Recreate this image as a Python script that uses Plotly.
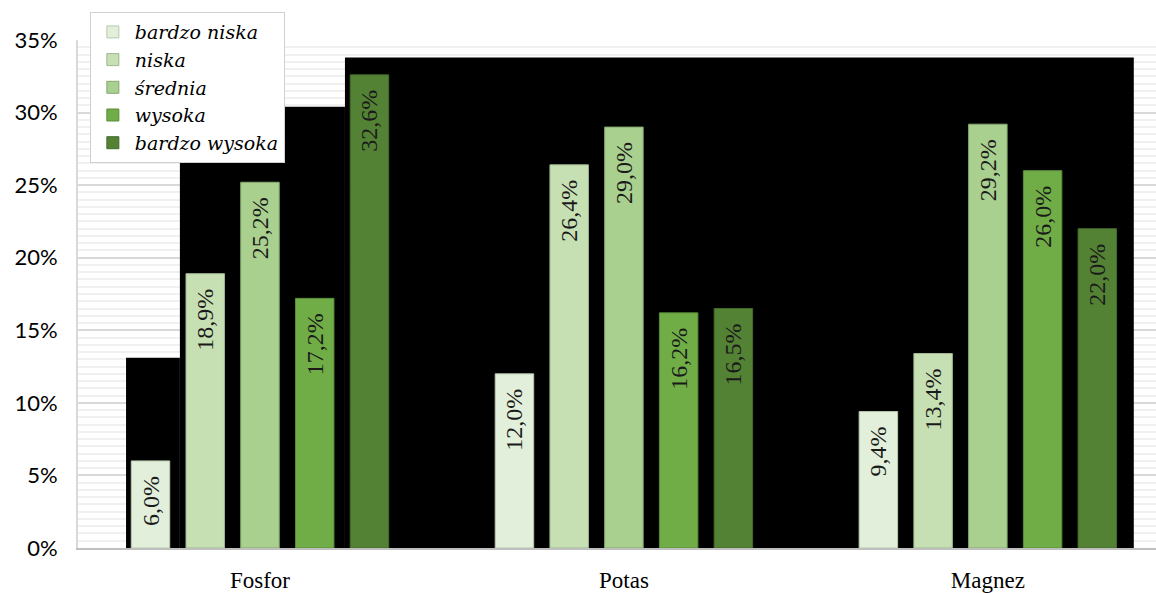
import plotly.graph_objects as go

categories = ["Fosfor", "Potas", "Magnez"]
series_names = ["bardzo niska", "niska", "średnia", "wysoka", "bardzo wysoka"]
values = {
    "bardzo niska": [6.0, 12.0, 9.4],
    "niska": [18.9, 26.4, 13.4],
    "średnia": [25.2, 29.0, 29.2],
    "wysoka": [17.2, 16.2, 26.0],
    "bardzo wysoka": [32.6, 16.5, 22.0],
}
colors = ["#e2efda", "#c6e0b4", "#a9d08e", "#70ad47", "#548235"]
edge_colors = ["#b7c9ab", "#9fb891", "#86a86f", "#5a8c39", "#43692a"]
y_ticks = [0, 5, 10, 15, 20, 25, 30, 35]

fig = go.Figure()
for name, col, ec in zip(series_names, colors, edge_colors):
    vals = values[name]
    fig.add_trace(go.Bar(
        name=name, x=categories, y=vals,
        marker=dict(color=col, line=dict(color=ec, width=1)),
        text=[f"{v:.1f}%".replace(".", ",") + "\u00a0\u00a0" for v in vals],
        textposition="inside", insidetextanchor="end", textangle=-90,
        textfont=dict(family="Liberation Serif", size=24, color="#1a1a1a"),
        cliponaxis=False,
    ))

# dark background block seen behind the bars in the reference
steps = [(-0.368, -0.220, 13.1), (-0.220, 0.2335, 30.4), (0.2335, 2.401, 33.8)]
for x0, x1, top in steps:
    fig.add_shape(type="rect", xref="x", yref="y", x0=x0, x1=x1, y0=0, y1=top,
                  fillcolor="black", line=dict(width=0), layer="between")

fig.update_layout(
    width=1156, height=593,
    margin=dict(l=78, r=0, t=40, b=45),
    paper_bgcolor="white", plot_bgcolor="white",
    barmode="group", bargap=0.248, bargroupgap=0.297,
    separators=", ",
    legend=dict(
        x=0.011, y=1.055, xanchor="left", yanchor="top",
        bgcolor="white", bordercolor="#d0d0d0", borderwidth=1,
        font=dict(family="DejaVu Serif", size=19, color="#000000", style="italic"),
        tracegroupgap=0, itemwidth=34, entrywidth=213, entrywidthmode="pixels",
    ),
    showlegend=True,
)
fig.update_xaxes(
    showgrid=False, showline=True, linecolor="#bfbfbf", linewidth=2,
    tickfont=dict(family="Liberation Serif", size=23, color="#000000"),
    ticks="", range=[-0.5, 2.462], ticklabelstandoff=10,
)
fig.update_yaxes(
    range=[0, 35], tickvals=y_ticks, ticktext=[f"{t}%" for t in y_ticks],
    showgrid=True, gridcolor="#d9d9d9", gridwidth=2,
    minor=dict(dtick=0.5, showgrid=True, gridcolor="#f0f0f0", gridwidth=2),
    showline=True, linecolor="#d9d9d9", linewidth=2,
    tickfont=dict(family="Lato", size=22, color="#000000"),
    zeroline=False, ticklabelstandoff=14,
)
fig.write_html("out.html")
